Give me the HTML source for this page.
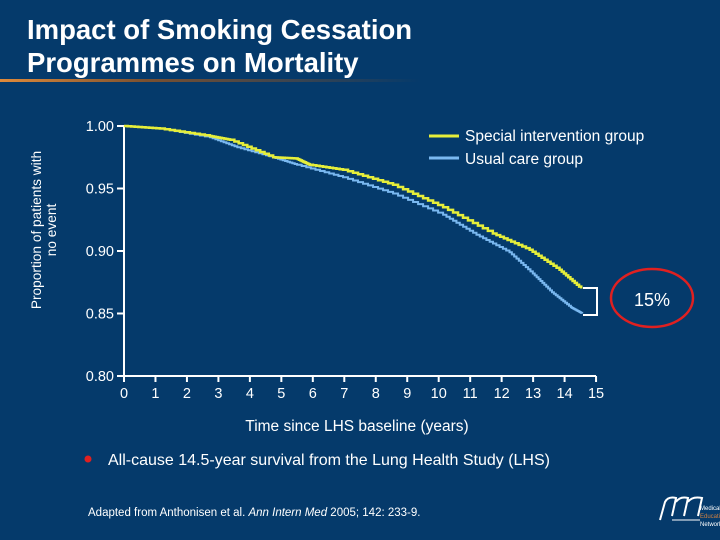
<!DOCTYPE html>
<html><head><meta charset="utf-8"><style>
body{margin:0;width:720px;height:540px;background:#053a6b;overflow:hidden;font-family:"Liberation Sans",sans-serif}
svg{display:block}
</style></head><body>
<svg width="720" height="540">
<defs><linearGradient id="rule" x1="0" x2="1"><stop offset="0" stop-color="#e08a3a"/><stop offset="0.35" stop-color="#7a5030"/><stop offset="1" stop-color="#053a6b"/></linearGradient></defs>
<text x="27" y="39" font-size="27.5" font-weight="bold" fill="#fff">Impact of Smoking Cessation</text>
<text x="27" y="72" font-size="27.5" font-weight="bold" fill="#fff">Programmes on Mortality</text>
<rect x="0" y="79" width="420" height="3" fill="url(#rule)"/>
<g id="chart"></g>
<text transform="translate(45,230) rotate(-90)" font-size="13.7" fill="#fff" text-anchor="middle"><tspan x="0" dy="-4">Proportion of patients with</tspan><tspan x="0" dy="15">no event</tspan></text>
<text x="357" y="431" font-size="15.5" fill="#fff" text-anchor="middle">Time since LHS baseline (years)</text>
<line x1="429" y1="136" x2="459" y2="136" stroke="#e6ee3a" stroke-width="3"/>
<text x="465" y="141" font-size="15.5" fill="#fff">Special intervention group</text>
<line x1="429" y1="158" x2="459" y2="158" stroke="#7ab8f0" stroke-width="3"/>
<text x="465" y="164" font-size="15.5" fill="#fff">Usual care group</text>
<path d="M583,288 H597 V315 H583" fill="none" stroke="#fff" stroke-width="2"/>
<ellipse cx="652" cy="298" rx="41" ry="29" fill="none" stroke="#e02020" stroke-width="2.5"/>
<text x="652" y="306" font-size="18" fill="#fff" text-anchor="middle">15%</text>
<circle cx="88" cy="459" r="3.5" fill="#e02020"/>
<text x="108" y="465" font-size="16" fill="#fff">All-cause 14.5-year survival from the Lung Health Study (LHS)</text>
<text x="88" y="516" font-size="11.5" fill="#fff">Adapted from Anthonisen et al. <tspan font-style="italic">Ann Intern Med</tspan> 2005; 142: 233-9.</text>
<g fill="none" stroke="#fff" stroke-width="2">
<path d="M660,520 L665,502 Q668,496 676,498 L672,516 M676,502 Q680,496 688,498 L684,516 M688,502 Q692,496 702,498 L698,516"/>
<path d="M672,520 L700,520" stroke-width="1"/>
<text x="700" y="510" font-size="6" fill="#fff" stroke="none">Medical</text>
<text x="700" y="518" font-size="6" fill="#d08040" stroke="none">Education</text>
<text x="700" y="526" font-size="6" fill="#fff" stroke="none">Network</text>
</g>
</svg>
<script>
const yTicks=[1.00,0.95,0.90,0.85,0.80];
const xTicks=[0,1,2,3,4,5,6,7,8,9,10,11,12,13,14,15];
const specialYears=[0,1.14,2.73,3.37,4.74,5.48,5.9,6.96,8.55,10.14,11.72,12.89,13.84,14.53];
const specialVals=[1.0,0.998,0.992,0.989,0.975,0.974,0.969,0.965,0.953,0.935,0.914,0.901,0.885,0.870];
const usualYears=[0,1.14,2.73,3.6,4.74,5.5,6.96,8.55,10.14,11.2,12.25,12.99,13.6,14.2,14.56];
const usualVals=[1.0,0.998,0.991,0.983,0.975,0.969,0.959,0.946,0.929,0.913,0.899,0.882,0.867,0.855,0.850];
const NS="http://www.w3.org/2000/svg";
const g=document.getElementById('chart');
const X=v=>124+v*31.47, Y=v=>126+(1-v)/0.05*62.5;
function mk(t,a){const e=document.createElementNS(NS,t);for(const k in a)e.setAttribute(k,a[k]);g.appendChild(e);return e;}
let ax=mk('path',{d:`M${X(0)},${Y(1)} V${Y(0.8)} H${X(15)}`,fill:'none',stroke:'#fff','stroke-width':2});


yTicks.forEach(v=>{
 const t=mk('line',{x1:X(0)-7,x2:X(0),y1:Y(v),y2:Y(v),stroke:'#fff','stroke-width':2});
 
 
 const l=mk('text',{x:X(0)-10,y:Y(v)+5,'font-size':14.5,fill:'#fff','text-anchor':'end'});l.textContent=v.toFixed(2);
 
 
});
xTicks.forEach(v=>{
 const t=mk('line',{x1:X(v),x2:X(v),y1:Y(0.8),y2:Y(0.8)+6,stroke:'#fff','stroke-width':2});
 
 
 const l=mk('text',{x:X(v),y:398,'font-size':14.5,fill:'#fff','text-anchor':'middle'});l.textContent=v;
 
 
});
function step(xs,ys){let d=`M${X(xs[0])},${Y(ys[0])}`;for(let i=1;i<xs.length;i++){
 const n=10;for(let k=1;k<=n;k++){const xx=xs[i-1]+(xs[i]-xs[i-1])*k/n,yy=ys[i-1]+(ys[i]-ys[i-1])*k/n;d+=` H${X(xx)} V${Y(yy)}`;}}return d;}
const su=mk('path',{d:step(usualYears,usualVals),fill:'none',stroke:'#7ab8f0','stroke-width':2});


const sp=mk('path',{d:step(specialYears,specialVals),fill:'none',stroke:'#e6ee3a','stroke-width':2.5});


</script>
</body></html>
